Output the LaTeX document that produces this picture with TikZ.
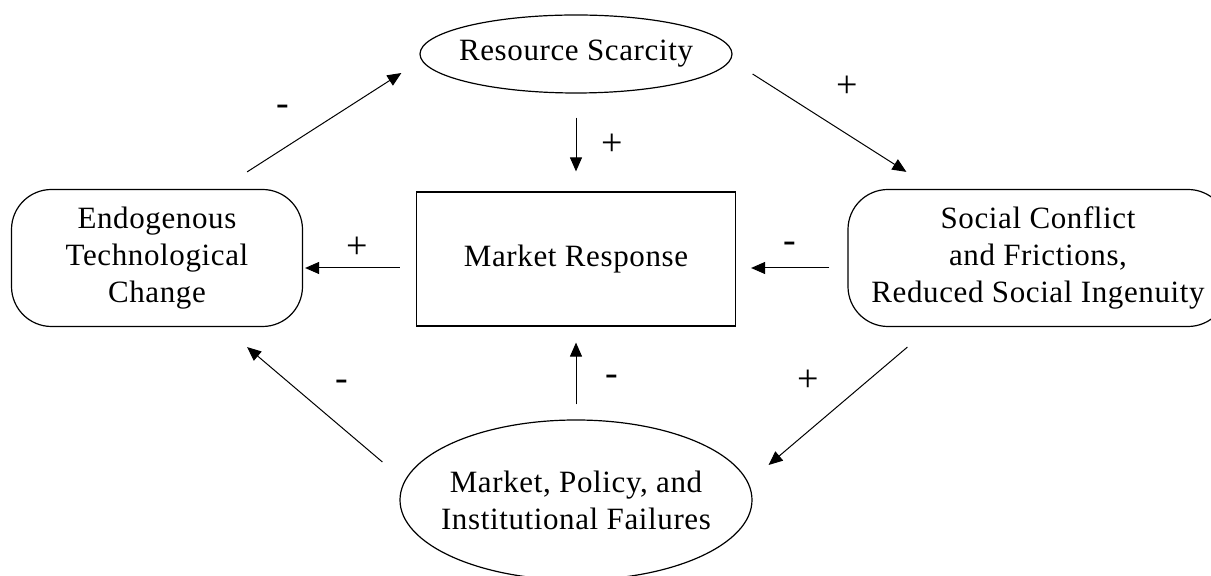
\documentclass[tikz,border=0pt]{standalone}
\usepackage{fontspec}
\setmainfont{Liberation Serif}[LetterSpace=2]
\usetikzlibrary{arrows.meta,shapes.geometric}

\begin{document}
\begin{tikzpicture}[x=0.5pt, y=-0.5pt,
  every node/.style={font=\fontsize{15.5}{18.5}\selectfont, align=center},
  oval/.style={draw, ellipse, inner sep=-8pt, line width=.6pt},
  roundbox/.style={draw, rounded corners=20pt, line width=.6pt, minimum width=145.5pt, minimum height=68.5pt},
  link/.style={arrows={-Triangle[length=7pt,width=6pt]}, line width=.5pt},
  sign/.style={font=\fontsize{19}{20}\selectfont}]
\useasboundingbox (0,0) rectangle (1211,576);

\node[oval, minimum width=156pt, minimum height=39pt] at (576,54) (scarcity) {Resource Scarcity};
\node[roundbox] at (157,258) (techchange) {Endogenous\\Technological\\Change};
\node[draw, line width=.6pt, minimum width=159.5pt, minimum height=67pt] at (576,259) (market) {Market Response};
\node[roundbox, minimum width=190pt] at (1038,258) (conflict) {Social Conflict\\and Frictions,\\Reduced Social Ingenuity};
\node[oval, minimum width=176pt, minimum height=80pt] at (576,500) (failures) {Market, Policy, and\\Institutional Failures};

%outer loop
\draw[link] ([shift={(-56,-17)}]techchange.north east) -- ([shift={(-18,19)}]scarcity.west);
\draw[link] ([shift={(20,20)}]scarcity.east) -- ([shift={(59,-17)}]conflict.north west);
\draw[link] ([shift={(60,20)}]conflict.south west) -- ([shift={(16,-35)}]failures.east);
\draw[link] ([shift={(-17,-38)}]failures.west) -- ([shift={(-56,20)}]techchange.south east);

%into and out of the market
\draw[link, shorten <=12pt, shorten >=10pt] (scarcity.south) -- (market.north);
\draw[link, shorten <=7.5pt, shorten >=8pt] (failures.north) -- (market.south);
\draw[link] ([shift={(-18,10)}]conflict.west) -- ([shift={(15,9)}]market.east);
\draw[link] ([shift={(-16,9)}]market.west) -- ([shift={(2,10)}]techchange.east);

%signs
\node[sign] at (283,110) (signTS) {-};
\node[sign] at (847,87) (signSC) {+};
\node[sign] at (612,145) (signSM) {+};
\node[sign] at (357,248) (signMT) {+};
\node[sign] at (790,247) (signCM) {-};
\node[sign] at (612,380) (signFM) {-};
\node[sign] at (342,385) (signFT) {-};
\node[sign] at (808,381) (signCF) {+};

\end{tikzpicture}
\end{document}
